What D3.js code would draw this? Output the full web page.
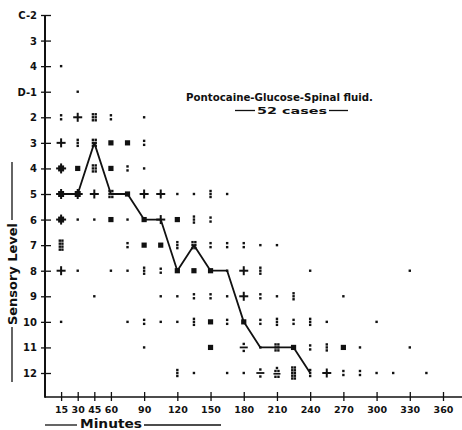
<!DOCTYPE html>
<html><head><meta charset="utf-8">
<script src="https://cdn.jsdelivr.net/npm/d3@7"></script>
<style>
html,body{margin:0;padding:0;background:#fff;}
svg{display:block;}
text{font-family:"DejaVu Sans",sans-serif;font-weight:bold;fill:#111;}
</style></head>
<body>
<svg id="c" width="462" height="430"></svg>
<script>
// ---- data ----
const levels = ["C-2","3","4","D-1","2","3 ","4 ","5","6","7","8","9","10","11","12"];
const levelLabels = ["C-2","3","4","D-1","2","3","4","5","6","7","8","9","10","11","12"];
const xTicks = [15,30,45,60,90,120,150,180,210,240,270,300,330,360];
// observation columns every 15 minutes, 15..360
const colTimes = d3.range(15, 361, 15);
// one string per sensory level, one character per 15-minute column
// '.'=1 ':'=2 'i'=3 '+'=cross 's'=square 'B'=block '/'=divide 'c'=cluster 'V'=tall 'A','W'=large
const rowMarks = [
  "",
  "",
  ".",
  " .",
  ":+B: .",
  "+iBss:",
  "csBs:.",
  "cc+Bs++..i.",
  "c..s.s+si:",
  "V   :ssiB:::..",
  "+. ..i:sss.+i  .     .",
  "  .   ..::.+:.i  .",
  ".   .:..is:s:i:i.  .",
  "     .   s /.Bs:is.  .",
  "       i. ../AWi+::.. ."
];
// median sensory level line
const lineTimes  = [15,30,45,60,75,90,105,120,135,150,165,180,195,210,225,240];
const lineLevels = ["5","5","3 ","5","5","6","6","8","7","8","8","10","11","11","11","12"];

const title = "Pontocaine-Glucose-Spinal fluid.";
const subtitle = "52 cases";
const xTitle = "Minutes";
const yTitle = "Sensory Level";

// ---- drawing ----
const svg = d3.select("#c");
const ink = "#111";
const x = d3.scaleLinear().domain([0,360]).range([44.5,443]);
const y = d3.scalePoint().domain(levels).range([15,373]);
const axX = 45, axY = 397;

// x axis
const gx = svg.append("g").attr("transform",`translate(0,${axY})`)
  .call(d3.axisBottom(x).tickValues(xTicks).tickSizeOuter(0));
gx.select(".domain").remove();
gx.selectAll(".tick line").attr("y1",-5).attr("y2",4).attr("stroke",ink).attr("stroke-width",1.3);
gx.selectAll(".tick text").attr("y",16).attr("dy",0).attr("font-size",9.5)
  .attr("font-family","DejaVu Sans").attr("font-weight","bold").attr("fill",ink);
svg.append("line").attr("x1",axX).attr("x2",462).attr("y1",axY).attr("y2",axY)
  .attr("stroke",ink).attr("stroke-width",1.6);

// y axis
const gy = svg.append("g").attr("transform",`translate(${axX},0)`)
  .call(d3.axisLeft(y).tickFormat((d,i)=>levelLabels[i]).tickSizeOuter(0));
gy.select(".domain").remove();
gy.selectAll(".tick line").attr("x1",-4).attr("x2",6).attr("stroke",ink).attr("stroke-width",1.3);
gy.selectAll(".tick text").attr("x",-8).attr("dy","0.35em").attr("font-size",10)
  .attr("font-family","DejaVu Sans").attr("font-weight","bold").attr("fill",ink);
svg.append("line").attr("x1",axX).attr("x2",axX).attr("y1",y("C-2")).attr("y2",axY+0.8)
  .attr("stroke",ink).attr("stroke-width",2);

// median line
const pts = lineTimes.map((t,i)=>({t, l:lineLevels[i]}));
svg.append("path").datum(pts)
  .attr("d", d3.line().x(d=>x(d.t)).y(d=>y(d.l)))
  .attr("fill","none").attr("stroke",ink).attr("stroke-width",1.8).attr("stroke-linejoin","round");

// glyph shapes (rects relative to centre)
const D = 2.4, h = D/2;
const dot = (dx,dy)=>[dx-h,dy-h,D,D];
const glyphs = {
  ".": [dot(0,0)],
  ":": [dot(0,-2),dot(0,2)],
  "i": [dot(0,-3),dot(0,0),dot(0,3)],
  "+": [[-1,-4.5,2,9],[-4.5,-1,9,2]],
  "s": [[-2.6,-2.6,5.2,5.2]],
  "B": [dot(-1.4,-3),dot(1.4,-3),dot(-1.4,0),dot(1.4,0),dot(-1.4,3),dot(1.4,3)],
  "/": [[-4,-0.9,8,1.8],dot(0,-3.5),dot(0,3.5)],
  "c": [[-1,-5,2,10],[-5,-1,10,2],[-3,-3,6,6]],
  "V": [dot(-1.3,-4.5),dot(1.3,-4.5),dot(-1.3,-1.5),dot(1.3,-1.5),dot(-1.3,1.5),dot(1.3,1.5),dot(-1.3,4.5),dot(1.3,4.5)],
  "A": [dot(0,-5),dot(-1.5,-2),dot(1.5,-2),[-3.5,0,7,1.6],dot(-1.5,3.8),dot(1.5,3.8)],
  "W": [dot(-1.3,-5.5),dot(1.3,-5.5),dot(-1.3,-2.7),dot(1.3,-2.7),dot(-1.3,0),dot(1.3,0),dot(-1.3,2.7),dot(1.3,2.7),dot(-1.3,5.5),dot(1.3,5.5)]
};
const gm = svg.append("g").attr("fill",ink);
rowMarks.forEach((row,ri)=>{
  const cy = y(levels[ri]);
  row.split("").forEach((ch,ci)=>{
    const g = glyphs[ch]; if(!g) return;
    const cx = x(colTimes[ci]);
    g.forEach(r=>gm.append("rect").attr("x",cx+r[0]).attr("y",cy+r[1]).attr("width",r[2]).attr("height",r[3]));
  });
});

// titles
svg.append("text").attr("x",186).attr("y",101).attr("font-size",10.5)
  .attr("textLength",187).attr("lengthAdjust","spacingAndGlyphs").text(title);
svg.append("text").attr("x",292).attr("y",114).attr("font-size",9.5).attr("text-anchor","middle")
  .attr("textLength",70).attr("lengthAdjust","spacingAndGlyphs").text(subtitle);
svg.append("line").attr("x1",235).attr("x2",255).attr("y1",110.5).attr("y2",110.5).attr("stroke",ink).attr("stroke-width",1.3);
svg.append("line").attr("x1",329).attr("x2",348).attr("y1",110.5).attr("y2",110.5).attr("stroke",ink).attr("stroke-width",1.3);

svg.append("text").attr("x",111).attr("y",428).attr("font-size",12).attr("text-anchor","middle")
  .attr("textLength",62).attr("lengthAdjust","spacingAndGlyphs").text(xTitle);
svg.append("line").attr("x1",45).attr("x2",77).attr("y1",425).attr("y2",425).attr("stroke",ink).attr("stroke-width",1.3);
svg.append("line").attr("x1",144).attr("x2",221).attr("y1",425).attr("y2",425).attr("stroke",ink).attr("stroke-width",1.3);

svg.append("text").attr("transform","translate(17,274) rotate(-90)").attr("font-size",12)
  .attr("text-anchor","middle").attr("textLength",102).attr("lengthAdjust","spacingAndGlyphs").text(yTitle);
svg.append("line").attr("x1",12).attr("x2",12).attr("y1",162).attr("y2",220).attr("stroke",ink).attr("stroke-width",1.3);
svg.append("line").attr("x1",12).attr("x2",12).attr("y1",327).attr("y2",382).attr("stroke",ink).attr("stroke-width",1.3);
</script>
</body></html>
